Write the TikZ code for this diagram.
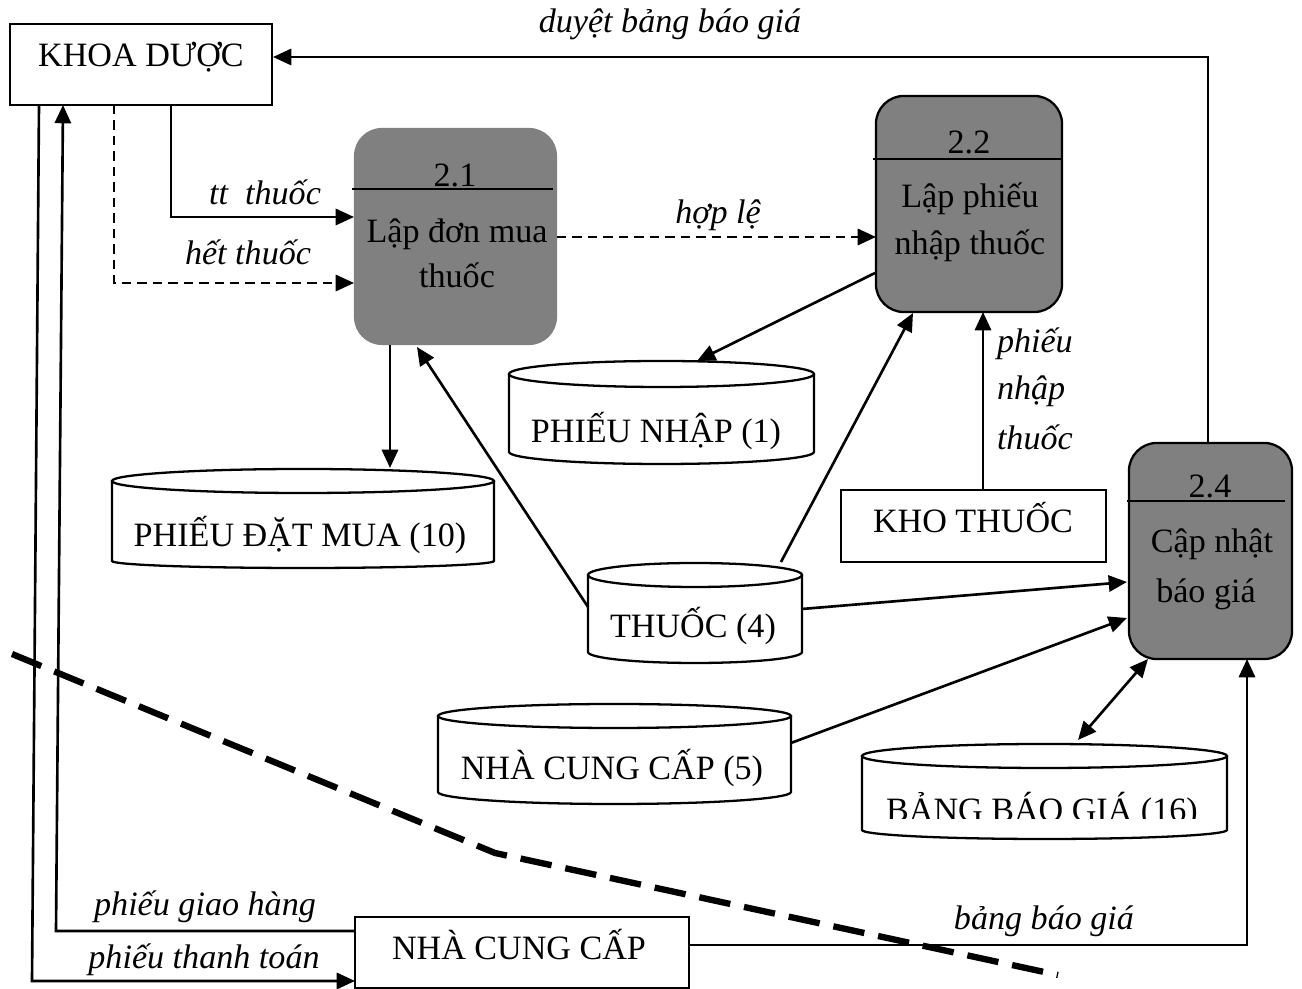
\documentclass[tikz,border=0pt]{standalone}
\usepackage{fontspec}
\setmainfont{Liberation Serif}
\usetikzlibrary{arrows.meta}

\definecolor{procgray}{RGB}{128,128,128}

% data store: name, left x, right x, top-ellipse centre y, side bottom y, top radius, bottom radius
\newcommand{\datastore}[7]{%
  \pgfmathsetmacro{\stcx}{(#2+#3)/2}%
  \pgfmathsetmacro{\strx}{(#3-#2)/2}%
  \pgfmathsetmacro{\stcy}{(#4-#6+#5+#7)/2}%
  \pgfmathsetmacro{\sth}{(#5+#7-#4+#6)*0.01}%
  \pgfmathsetmacro{\stw}{(#3-#2)*0.01}%
  \node[minimum width=\stw cm, minimum height=\sth cm] (#1) at (\stcx,\stcy) {};
  \draw[storeline, fill=white] (#2,#4) -- (#2,#5)
     arc[start angle=180, end angle=0, x radius=\strx, y radius=#7] -- (#3,#4);
  \draw[storeline] (\stcx,#4) ellipse[x radius=\strx, y radius=#6];
}

\begin{document}
\begin{tikzpicture}[x=0.01cm, y=-0.01cm,
  every node/.style={font=\fontsize{9.7}{11.6}\selectfont, inner sep=0pt, outer sep=0pt},
  txt/.style={anchor=base},
  lbl/.style={anchor=base, font=\fontsize{9.7}{11.6}\selectfont\itshape},
  lbll/.style={anchor=base west, font=\fontsize{9.7}{11.6}\selectfont\itshape},
  extbox/.style={draw, line width=0.6pt, fill=white},
  procbox/.style={fill=procgray, rounded corners=0.28cm},
  sepline/.style={line width=0.65pt},
  storeline/.style={line width=0.65pt},
  flow/.style={line width=0.75pt, -{Triangle[length=5.2pt,width=4.6pt]}},
  biflow/.style={line width=0.75pt, {Triangle[length=5.2pt,width=4.6pt]}-{Triangle[length=5.2pt,width=4.6pt]}},
  dflow/.style={flow, dash pattern=on 2.7pt off 1.7pt},
  boundary/.style={line width=1.8pt, dash pattern=on 9pt off 4pt}
]
\useasboundingbox (0,0) rectangle (1302,989);

% ---------- external entities ----------
\node[extbox, minimum width=2.62cm, minimum height=0.81cm] (kd) at (141,64.5) {};
\node[txt] (kdt) at (141,67) {KHOA DƯỢC};

\node[extbox, minimum width=2.65cm, minimum height=0.72cm] (kt) at (973.5,526) {};
\node[txt] (ktt) at (973,533) {KHO THUỐC};

\node[extbox, minimum width=3.34cm, minimum height=0.71cm] (ncc) at (522,952.5) {};
\node[txt] (ncct) at (519,960) {NHÀ CUNG CẤP};

% ---------- processes ----------
\node[procbox, minimum width=2.03cm, minimum height=2.17cm] (p21) at (455.5,236.5) {};
\draw[sepline] (352,189) -- (553,189);
\node[txt] (p21n) at (455,187) {2.1};
\node[txt] (p21a) at (457,243) {Lập đơn mua};
\node[txt] (p21b) at (457,288) {thuốc};

\node[procbox, draw, line width=0.65pt, minimum width=1.86cm, minimum height=2.16cm] (p22) at (969,204) {};
\draw[sepline] (873,159) -- (1062,159);
\node[txt] (p22n) at (969,154) {2.2};
\node[txt] (p22a) at (970,208) {Lập phiếu};
\node[txt] (p22b) at (970,255) {nhập thuốc};

\node[procbox, draw, line width=0.65pt, minimum width=1.63cm, minimum height=2.16cm] (p24) at (1210.5,551) {};
\draw[sepline] (1127,501) -- (1285,501);
\node[txt] (p24n) at (1210,498) {2.4};
\node[txt] (p24a) at (1212,553) {Cập nhật};
\node[txt] (p24b) at (1206,603) {báo giá};

% ---------- data stores ----------
\datastore{pdm}{112}{494}{481}{561}{12}{7}
\node[txt] (pdmt) at (300,547) {PHIẾU ĐẶT MUA (10)};

\datastore{pn}{509}{814}{374}{452}{13}{12}
\node[txt] (pnt) at (656,443) {PHIẾU NHẬP (1)};

\datastore{th}{588}{802}{575}{652}{12}{11}
\node[txt] (tht) at (693,638) {THUỐC (4)};

\datastore{ncs}{438}{791}{716}{792}{12}{12}
\node[txt] (ncst) at (612,780) {NHÀ CUNG CẤP (5)};

\datastore{bbg}{862}{1227}{756}{830}{12}{9}
\begin{scope}
  \clip (850,790) rectangle (1240,819);
  \node[txt] (bbgt) at (1042,822) {BẢNG BÁO GIÁ (16)};
\end{scope}

% ---------- attachment points ----------
\coordinate (p24-up) at (1208,443);
\coordinate (kd-in)  at (273,57);
\coordinate (kd-tt)  at (171,105);
\coordinate (p21-tt) at (354,217);
\coordinate (kd-ht)  at (114,105);
\coordinate (p21-ht) at (354,283);
\coordinate (p21-hl) at (557,237);
\coordinate (p22-hl) at (876,237);
\coordinate (p22-pn) at (875,273);
\coordinate (pn-in)  at (697,361);
\coordinate (p21-dn) at (390,345);
\coordinate (pdm-in) at (390,468);
\coordinate (th-l)   at (588,607);
\coordinate (p21-th) at (417,347);
\coordinate (th-t)   at (781,562);
\coordinate (p22-th) at (913,313);
\coordinate (kt-up)  at (983,490);
\coordinate (p22-kt) at (983,312);
\coordinate (th-r)   at (802,609);
\coordinate (p24-th) at (1127,582);
\coordinate (ncs-r)  at (791,743);
\coordinate (p24-nc) at (1127,618);
\coordinate (bbg-t)  at (1078,740);
\coordinate (p24-bb) at (1148,659);
\coordinate (ncc-r)  at (689,945);
\coordinate (p24-dn) at (1247,659);
\coordinate (ncc-gh) at (355,931);
\coordinate (gh-c)   at (56,931);
\coordinate (kd-gh)  at (63,105);
\coordinate (kd-tt2) at (39,105);
\coordinate (tt-c)   at (32,981);
\coordinate (ncc-tt) at (355,981);

% ---------- data flows ----------
\draw[flow] (p24-up) |- (kd-in);
\draw[flow] (kd-tt) |- (p21-tt);
\draw[dflow] (kd-ht) |- (p21-ht);
\draw[dflow] (p21-hl) -- (p22-hl);
\draw[flow] (p22-pn) -- (pn-in);
\draw[flow] (p21-dn) -- (pdm-in);
\draw[flow] (th-l) -- (p21-th);
\draw[flow] (th-t) -- (p22-th);
\draw[flow] (kt-up) -- (p22-kt);
\draw[flow] (th-r) -- (p24-th);
\draw[flow] (ncs-r) -- (p24-nc);
\draw[biflow] (bbg-t) -- (p24-bb);
\draw[flow] (ncc-r) -| (p24-dn);
\draw[flow] (ncc-gh) -- (gh-c) -- (kd-gh);
\draw[flow] (kd-tt2) -- (tt-c) -- (ncc-tt);

% ---------- flow labels ----------
\node[lbl] (l1) at (670,33) {duyệt bảng báo giá};
\node[lbl] (l2) at (265,205) {tt\ \ thuốc};
\node[lbl] (l3) at (248,265) {hết thuốc};
\node[lbl] (l4) at (718,224) {hợp lệ};
\node[lbll] (l5) at (997,353) {phiếu};
\node[lbll] (l6) at (997,400) {nhập};
\node[lbll] (l7) at (997,450) {thuốc};
\node[lbl] (l8) at (205,916) {phiếu giao hàng};
\node[lbl] (l9) at (204,969) {phiếu thanh toán};
\node[lbl] (l10) at (1044,930) {bảng báo giá};

% ---------- system boundary ----------
\draw[boundary] (12,654) -- (495,853) -- (1058,975);

\end{tikzpicture}
\end{document}
